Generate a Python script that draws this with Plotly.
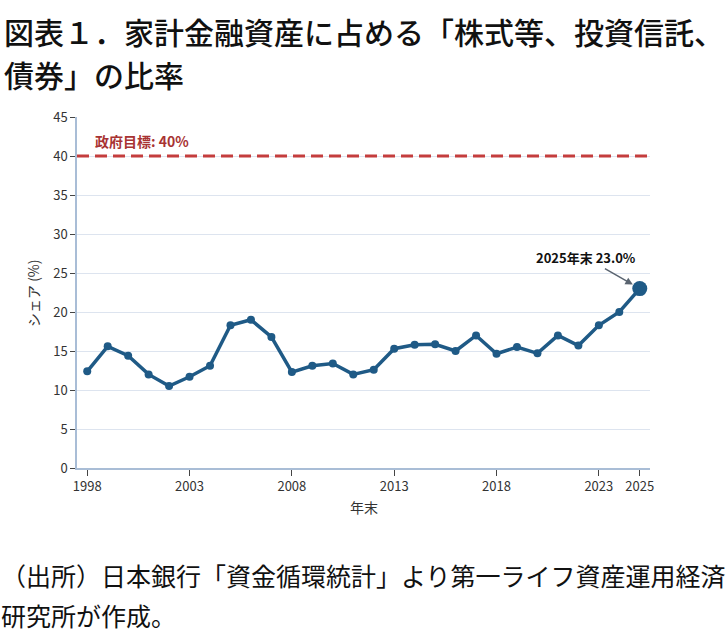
import plotly.graph_objects as go

years = list(range(1998, 2026))
share = [12.4, 15.6, 14.4, 12.0, 10.5, 11.7, 13.1, 18.3, 19.0, 16.8,
         12.3, 13.1, 13.4, 12.0, 12.6, 15.3, 15.8, 15.85, 15.0, 17.0,
         14.65, 15.5, 14.7, 17.0, 15.7, 18.3, 20.0, 23.0]
x_ticks = [1998, 2003, 2008, 2013, 2018, 2023, 2025]
y_ticks = [0, 5, 10, 15, 20, 25, 30, 35, 40, 45]
target = 40

FONT = "Noto Sans CJK JP"
LINE_C = "#1f5a86"
RED = "#c43d3d"

W, H = 728, 634
ML, MR, MT, MB = 77, 78, 117, 166
plot_h = H - MT - MB

def py(pix):
    return (H - MB - pix) / plot_h

fig = go.Figure()
fig.add_trace(go.Scatter(x=years, y=share, mode="lines+markers",
                         line=dict(color=LINE_C, width=3.5),
                         marker=dict(color=LINE_C, size=8), showlegend=False))
fig.add_trace(go.Scatter(x=[years[-1]], y=[share[-1]], mode="markers",
                         marker=dict(color=LINE_C, size=15), showlegend=False))

fig.add_shape(type="line", xref="paper", yref="y", x0=0, x1=1, y0=target, y1=target,
              line=dict(color=RED, width=3, dash="12px,6px"))

fig.add_annotation(x=0.028, xref="paper", y=target, yref="y", yshift=3,
                   text="<b>政府目標: 40%</b>", showarrow=False, xanchor="left", yanchor="bottom",
                   font=dict(family=FONT, size=14, color="#a83333"))

fig.add_annotation(x=years[-1], y=share[-1], text="<b>2025年末 23.0%</b>",
                   showarrow=True, ax=-54, ay=-31, arrowhead=2, arrowsize=1, arrowwidth=1.5,
                   arrowcolor="#5a6470", standoff=8,
                   font=dict(family=FONT, size=13, color="#111111"))

# Title
fig.add_annotation(x=0, xref="paper", xshift=-ML + 2, y=py(31), yref="paper", yanchor="middle",
                   text="図表１．家計金融資産に占める「株式等、投資信託、", showarrow=False,
                   xanchor="left", font=dict(family=FONT, size=30, color="#111111", weight=500))
fig.add_annotation(x=0, xref="paper", xshift=-ML + 2, y=py(74), yref="paper", showarrow=False,
                   text="債券」の比率", xanchor="left", yanchor="middle",
                   font=dict(family=FONT, size=30, color="#111111", weight=500))

# Source
fig.add_annotation(x=0, xref="paper", xshift=-ML, y=py(575), yref="paper", showarrow=False,
                   text="（出所）日本銀行「資金循環統計」より第一ライフ資産運用経済", xanchor="left",
                   yanchor="middle", borderpad=0,
                   font=dict(family=FONT, size=25, color="#111111"))
fig.add_annotation(x=0, xref="paper", xshift=-ML, y=py(615), yref="paper", showarrow=False,
                   text="研究所が作成。", xanchor="left", yanchor="middle", borderpad=0,
                   font=dict(family=FONT, size=25, color="#111111"))

# axis titles
fig.add_annotation(x=0, xref="paper", xshift=-44, y=py(293), yref="paper", showarrow=False,
                   xanchor="center", yanchor="middle",
                   text="シェア (%)", textangle=-90, font=dict(family=FONT, size=14, color="#333333"))
fig.add_annotation(x=0.5, xref="paper", y=py(507), yref="paper", showarrow=False,
                   xanchor="center", yanchor="middle",
                   text="年末", font=dict(family=FONT, size=14, color="#333333"))

fig.update_xaxes(range=[1997.5, 2025.5], tickvals=x_ticks, ticks="outside", ticklen=6,
                 tickcolor="#444444", showgrid=False, showline=True, linecolor="#a9bdd6",
                 linewidth=1.5, zeroline=False,
                 tickfont=dict(family=FONT, size=13, color="#333333"))
fig.update_yaxes(range=[0, 45], tickvals=y_ticks, ticks="outside", ticklen=5,
                 tickcolor="#444444", showgrid=True, gridcolor="#dde4ef", gridwidth=1,
                 showline=True, linecolor="#a9bdd6", linewidth=1.5, zeroline=False,
                 tickfont=dict(family=FONT, size=13, color="#333333"))

fig.update_layout(width=W, height=H, margin=dict(l=ML, r=MR, t=MT, b=MB),
                  plot_bgcolor="white", paper_bgcolor="white")

fig.write_html("out.html")
